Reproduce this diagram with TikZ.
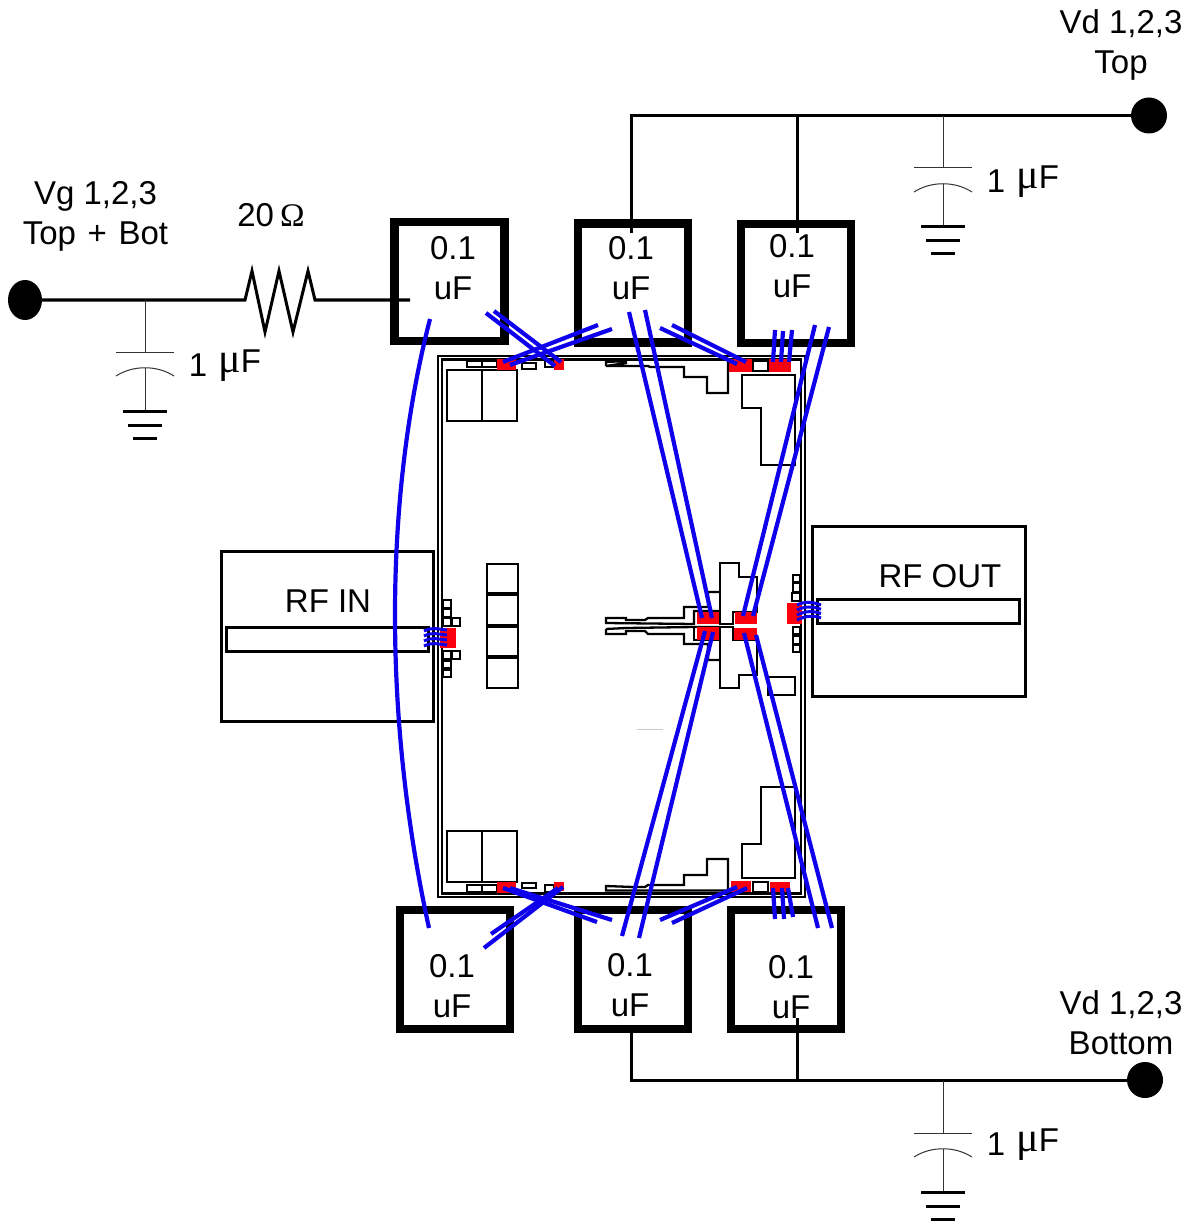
\documentclass[tikz,border=0pt]{standalone}
\usepackage{fontspec}
\usetikzlibrary{shapes.geometric}
\setmainfont{Liberation Sans}
\newfontfamily\greekfont{Liberation Serif}
\definecolor{bondblue}{RGB}{15,0,235}
\definecolor{padred}{RGB}{250,0,15}

\begin{document}
\begin{tikzpicture}[x=1pt, y=-1pt,
    every node/.style = {font=\fontsize{33}{40}\selectfont, inner sep=0pt, align=center},
    capbox/.style = {draw, line width=8.5pt, minimum width=110pt, minimum height=119pt},
    pad/.style = {fill=padred, minimum width=#1},
    vdot/.style = {circle, fill=black, minimum size=36pt},
    bar/.style = {draw, line width=3pt, minimum width=202pt, minimum height=24pt},
    trace/.style = {line width=3pt},
    thinline/.style = {line width=1pt, black!80},
    chipline/.style = {line width=2.3pt},
    wire/.style = {draw=bondblue, line width=4.2pt},
    fly/.style = {draw=bondblue, line width=3pt}]
    \useasboundingbox (0,0) rectangle (1189,1222);

    \draw[chipline] (438,356) rectangle (805,897);
    \draw[chipline] (442,359.5) rectangle (801,893.5);
    \foreach \x/\y/\xx/\yy in {447/370/482/421, 482/370/517/421, 447/831/482/882, 482/831/517/882,
        467/361/482/367, 482/361/497/367, 522/363/536/369, 545/360/554/367, 753/361/768/371,
        467/885/482/892, 482/885/497/892, 522/883/536/888, 545/885/554/892, 753/882/768/892,
        487/564/518/593, 487/595/518/625, 487/627/518/656, 487/658/518/688,
        443/600/451/608, 443/609/451/617, 443/618/451/626, 452/618/460/626,
        443/651/451/659, 452/651/460/659, 443/661/451/668, 443/670/451/677,
        793/575/800/582, 793/583/800/592, 792/593/800/601, 793/627/800/634, 793/636/800/644, 793/645/800/652,
        768/677/795/695}
        \draw[chipline] (\x,\y) rectangle (\xx,\yy);
    \draw[chipline] (606,366) -- (606,362) -- (626,361) -- (626,363) -- (606,366) -- (648,366) -- (650,367) -- (684,367)
        -- (684,377) -- (707,377) -- (707,393) -- (728,393) -- (728,359);
    \draw[chipline] (606,886) -- (606,890.5) -- (728,890.5) -- (728,859) -- (707,859) -- (707,875) -- (684,875)
        -- (684,885) -- (648,885) -- (645,887) -- (633,887) -- cycle;
    \draw[chipline] (742,375) -- (795,375) -- (795,465) -- (761,465) -- (761,408) -- (742,408) -- cycle;
    \draw[chipline] (742,878) -- (795,878) -- (795,787) -- (761,787) -- (761,844) -- (742,844) -- cycle;
    \draw[chipline] (719,592) -- (708,592) -- (708,607) -- (684,607) -- (684,618) -- (648,618) -- (645,620) -- (626,620)
        -- (626,618) -- (606,618) -- (606,623) -- (694,624) -- (694,611) -- (720,611);
    \draw[chipline] (606,629) -- (626,628) -- (694,627) -- (720,627);
    \draw[chipline] (606,629) -- (606,634) -- (626,634) -- (626,631) -- (645,631) -- (648,634) -- (684,634)
        -- (684,644) -- (708,644) -- (708,660) -- (719,660);
    \draw[chipline] (694,627) -- (694,640) -- (720,640);
    \draw[chipline] (720,624) -- (720,563) -- (739,563) -- (739,577) -- (757,577) -- (757,612) -- (733,612) -- (733,624) -- cycle;
    \draw[chipline] (720,627) -- (720,688) -- (739,688) -- (739,675) -- (757,675) -- (757,640) -- (733,640) -- (733,627) -- cycle;
    \draw[line width=1pt, black!20] (637,729) -- (663,729);

    \node[pad=19pt, minimum height=11pt] (padTA) at (506.5,364.5) {};
    \node[pad=10pt, minimum height=11pt] (padTB) at (559,364.5) {};
    \node[pad=23pt, minimum height=13pt] (padTC) at (740.5,365.5) {};
    \node[pad=22pt, minimum height=13pt] (padTD) at (780,365.5) {};
    \node[pad=19pt, minimum height=11pt] (padBA) at (506.5,887.5) {};
    \node[pad=10pt, minimum height=9pt] (padBB) at (559,886.5) {};
    \node[pad=20pt, minimum height=11pt] (padBC) at (741,886.5) {};
    \node[pad=20pt, minimum height=10pt] (padBD) at (780,887) {};
    \node[pad=22pt, minimum height=12pt] (padCA) at (708,618) {};
    \node[pad=22pt, minimum height=12pt] (padCB) at (746,618) {};
    \node[pad=22pt, minimum height=13pt] (padCC) at (708,633.5) {};
    \node[pad=23pt, minimum height=12pt] (padCD) at (745.5,634) {};
    \node[pad=16pt, minimum height=20pt] (padIn) at (448,638) {};
    \node[pad=15pt, minimum height=21pt] (padOut) at (794.5,613.5) {};

    \node[capbox] (capTA) at (449.5,281.5) {};
    \node[capbox] (capTB) at (633,283) {};
    \node[capbox] (capTC) at (796,283.5) {};
    \node[capbox] (capBA) at (455,969.5) {};
    \node[capbox] (capBB) at (633,969.5) {};
    \node[capbox] (capBC) at (786,969.5) {};
    \foreach \n/\x/\y in {TA/453/268, TB/631/268, TC/792/266, BA/452/986, BB/630/985, BC/791/987}
        \node (txt\n) at (\x,\y) {0.1\\uF};

    \node[draw, line width=3pt, minimum width=212pt, minimum height=170pt] (boxIn) at (327,636) {};
    \node[draw, line width=3pt, minimum width=213pt, minimum height=170pt] (boxOut) at (918.5,611) {};
    \node[bar] (barIn) at (327,639) {};
    \node[bar] (barOut) at (918.5,611) {};
    \node (txtIn) at (328,601) {RF IN};
    \node (txtOut) at (940,576.5) {RF OUT};

    \node[ellipse, fill=black, minimum width=34pt, minimum height=40pt] (dotVg) at (25,300) {};
    \node[vdot] (dotT) at (1149,115.5) {};
    \node[vdot] (dotB) at (1145,1080) {};
    \node (txtVg) at (95.5,216) {Vg 1,2,3\\Top \hspace{2.5pt}+ \hspace{2.5pt}Bot};
    \node (txtT) at (1121,45) {Vd 1,2,3\\Top};
    \node (txtB) at (1121,1023) {Vd 1,2,3\\Bottom};
    \node (txtR) at (271,215) {20\hspace{6pt}{\greekfont Ω}};

    \coordinate (jTA) at (631,115.5);
    \coordinate (jTB) at (797,115.5);
    \coordinate (jBA) at (631,1080);
    \coordinate (jBB) at (797,1080);
    \coordinate (endTA) at (631,233);
    \coordinate (endTB) at (797,233);
    \coordinate (endBA) at (631,1030);
    \coordinate (endBB) at (797,1018);
    \coordinate (endVg) at (410,300);
    \coordinate (resA) at (245,300);
    \coordinate (resB) at (315,300);
    \draw[trace] (dotT) -- (jTA) -- (endTA);
    \draw[trace] (jTB) -- (endTB);
    \draw[trace] (dotB) -- (jBA) -- (endBA);
    \draw[trace] (jBB) -- (endBB);
    \draw[trace] (dotVg) -- (resA) -- ++(7,-29) -- ++(13,61) -- ++(14,-61) -- ++(14,61) -- ++(15,-61) -- (resB) -- (endVg);

    \foreach \n/\x/\y/\lx/\ly in {A/145/300/225/366, B/943/116/1023/182, C/943/1081/1023/1145} {
        \coordinate (tap\n) at (\x,\y);
        \draw[thinline] (tap\n) -- ++(0,52) coordinate (top\n);
        \draw[thinline] ([xshift=-29pt]top\n) -- ([xshift=29pt]top\n);
        \draw[thinline] ([shift={(-29,24)}]top\n) .. controls ([shift={(-12,13)}]top\n) and ([shift={(12,13)}]top\n) .. ([shift={(29,24)}]top\n);
        \draw[thinline] ([yshift=-16pt]top\n) -- ([yshift=-59pt]top\n) coordinate (gnd\n);
        \draw[line width=3pt] ([xshift=-22pt]gnd\n) -- ([xshift=22pt]gnd\n);
        \draw[line width=3pt] ([shift={(-17,14)}]gnd\n) -- ([shift={(17,14)}]gnd\n);
        \draw[line width=3pt] ([shift={(-12,27)}]gnd\n) -- ([shift={(12,27)}]gnd\n);
        \node (txtC\n) at (\lx,\ly) {\raisebox{-4pt}{1}\hspace{2pt} {\greekfont\fontsize{42}{40}\selectfont μ}F};
    }

    \draw[wire] ([shift={(-19.5,37.5)}]capTA.center) .. controls (383.5,500) and (383.5,720) .. ([shift={(-26,-41.5)}]capBA.center);
    \draw[wire] ([shift={(36.5,31.5)}]capTA.center) -- ([shift={(-4,1.5)}]padTB.center);
    \draw[wire] ([shift={(44.5,29.5)}]capTA.center) -- ([shift={(2,-2.5)}]padTB.center);
    \draw[wire] ([shift={(-35,42)}]capTB.center) -- ([shift={(-3.5,-2.5)}]padTA.center);
    \draw[wire] ([shift={(-21,46)}]capTB.center) -- ([shift={(3.5,0.5)}]padTA.center);
    \draw[wire] ([shift={(-4,29)}]capTB.center) -- ([shift={(-6,0)}]padCA.center);
    \draw[wire] ([shift={(12,27)}]capTB.center) -- ([shift={(4,0)}]padCA.center);
    \draw[wire] ([shift={(27,45)}]capTB.center) -- ([shift={(-3.5,-1.5)}]padTC.center);
    \draw[wire] ([shift={(39,42)}]capTB.center) -- ([shift={(5.5,-3.5)}]padTC.center);
    \draw[wire] ([shift={(-21,46.5)}]capTC.center) -- ([shift={(-7,-3.5)}]padTD.center);
    \draw[wire] ([shift={(-13,47.5)}]capTC.center) -- ([shift={(1,-3.5)}]padTD.center);
    \draw[wire] ([shift={(-4,46.5)}]capTC.center) -- ([shift={(9,-3.5)}]padTD.center);
    \draw[wire] ([shift={(19,41.5)}]capTC.center) -- ([shift={(-3,-2)}]padCB.center);
    \draw[wire] ([shift={(33,43.5)}]capTC.center) -- ([shift={(7,-2)}]padCB.center);
    \draw[wire] ([shift={(29,-21.5)}]capBA.center) -- ([shift={(4,0.5)}]padBB.center);
    \draw[wire] ([shift={(36,-35.5)}]capBA.center) -- ([shift={(-1,1.5)}]padBB.center);
    \draw[wire] ([shift={(-36,-47.5)}]capBB.center) -- ([shift={(-3.5,0.5)}]padBA.center);
    \draw[wire] ([shift={(-21,-49.5)}]capBB.center) -- ([shift={(3.5,0.5)}]padBA.center);
    \draw[wire] ([shift={(-11,-33.5)}]capBB.center) -- ([shift={(-3,-2.5)}]padCC.center);
    \draw[wire] ([shift={(6,-31.5)}]capBB.center) -- ([shift={(5,-1.5)}]padCC.center);
    \draw[wire] ([shift={(27,-49.5)}]capBB.center) -- ([shift={(-4,0.5)}]padBC.center);
    \draw[wire] ([shift={(39,-46.5)}]capBB.center) -- ([shift={(6,1.5)}]padBC.center);
    \draw[wire] ([shift={(-11,-50.5)}]capBC.center) -- ([shift={(-7,1)}]padBD.center);
    \draw[wire] ([shift={(-2,-50.5)}]capBC.center) -- ([shift={(2,1)}]padBD.center);
    \draw[wire] ([shift={(7,-52.5)}]capBC.center) -- ([shift={(8,1)}]padBD.center);
    \draw[wire] ([shift={(32,-41.5)}]capBC.center) -- ([shift={(-1.5,-1)}]padCD.center);
    \draw[wire] ([shift={(46,-41.5)}]capBC.center) -- ([shift={(10.5,1)}]padCD.center);

    \foreach \k in {0,1,2,3} {
        \draw[fly] ([shift={(97,{-8+5*\k})}]barIn.center) .. controls +(8,-4) and +(-10,-1) .. ([shift={(-1,{-8+5*\k})}]padIn.center);
        \draw[fly] ([shift={(2.5,{-8.5+5*\k})}]padOut.center) .. controls +(8,-4) and +(-8,-3) .. ([shift={(-97.5,{-6+4.3*\k})}]barOut.center);
    }
\end{tikzpicture}
\end{document}
